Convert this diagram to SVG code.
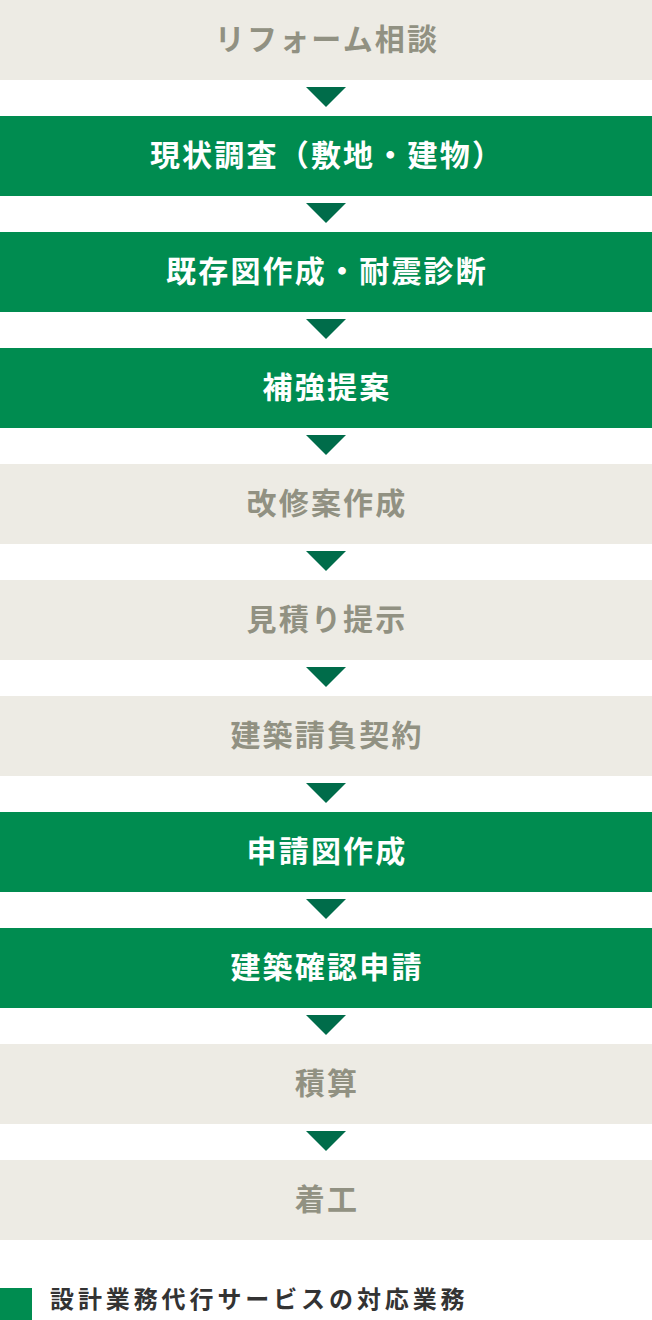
<svg xmlns="http://www.w3.org/2000/svg" width="652" height="1320" viewBox="0 0 652 1320">
<style>
.g rect{fill:#008c50}
.b rect{fill:#edebe4}
text{font-family:"Noto Sans CJK JP","Noto Sans",sans-serif;font-weight:700;font-size:30px;letter-spacing:2.2px;text-anchor:middle;dominant-baseline:central}
.g text{fill:#ffffff}
.b text{fill:#919182}
.arr{fill:#006c4a}
.leg{font-size:24px;letter-spacing:3.9px;text-anchor:start;fill:#333333}
</style>
<rect width="652" height="1320" fill="#ffffff"/>
<g id="n1" class="b"><rect x="0" y="0" width="652" height="80"/><text x="327" y="37">リフォーム相談</text></g>
<g id="n2" class="g"><rect x="0" y="116" width="652" height="80"/><text x="327" y="153">現状調査（敷地・建物）</text></g>
<g id="n3" class="g"><rect x="0" y="232" width="652" height="80"/><text x="327" y="269">既存図作成・耐震診断</text></g>
<g id="n4" class="g"><rect x="0" y="348" width="652" height="80"/><text x="327" y="385">補強提案</text></g>
<g id="n5" class="b"><rect x="0" y="464" width="652" height="80"/><text x="327" y="501">改修案作成</text></g>
<g id="n6" class="b"><rect x="0" y="580" width="652" height="80"/><text x="327" y="617">見積り提示</text></g>
<g id="n7" class="b"><rect x="0" y="696" width="652" height="80"/><text x="327" y="733">建築請負契約</text></g>
<g id="n8" class="g"><rect x="0" y="812" width="652" height="80"/><text x="327" y="849">申請図作成</text></g>
<g id="n9" class="g"><rect x="0" y="928" width="652" height="80"/><text x="327" y="965">建築確認申請</text></g>
<g id="n10" class="b"><rect x="0" y="1044" width="652" height="80"/><text x="327" y="1081">積算</text></g>
<g id="n11" class="b"><rect x="0" y="1160" width="652" height="80"/><text x="327" y="1197">着工</text></g>
<g id="connectors" class="arr">
<polygon points="306,87 346,87 326,107"/>
<polygon points="306,203 346,203 326,223"/>
<polygon points="306,319 346,319 326,339"/>
<polygon points="306,435 346,435 326,455"/>
<polygon points="306,551 346,551 326,571"/>
<polygon points="306,667 346,667 326,687"/>
<polygon points="306,783 346,783 326,803"/>
<polygon points="306,899 346,899 326,919"/>
<polygon points="306,1015 346,1015 326,1035"/>
<polygon points="306,1131 346,1131 326,1151"/>
</g>
<g id="legend">
<rect x="0" y="1288" width="32" height="32" fill="#008c50"/>
<text class="leg" x="50" y="1297">設計業務代行サービスの対応業務</text>
</g>
</svg>
